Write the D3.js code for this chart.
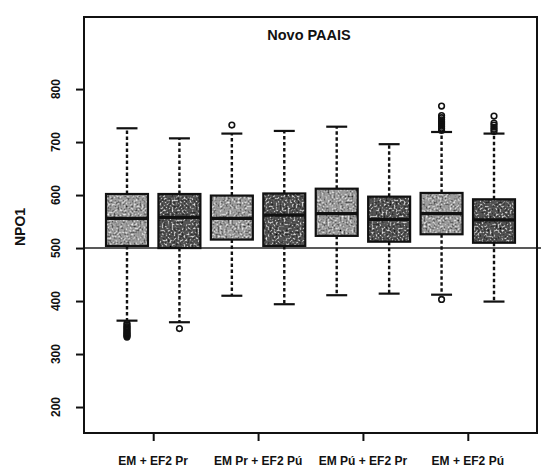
<!DOCTYPE html>
<html>
<head>
<meta charset="utf-8">
<script src="https://cdn.jsdelivr.net/npm/d3@7"></script>
<style>
  body { margin: 0; background: #fff; }
  text { font-family: "Liberation Sans", Arial, sans-serif; font-weight: bold; fill: #111; }
</style>
</head>
<body>
<div id="chart"></div>
<script>
// canvas size and plot box
let width = 541,
    height = 467,
    margin = ({ top: 17, right: 4, bottom: 34, left: 84 });

// data
const groupLabels = ["EM + EF2 Pr", "EM Pr + EF2 Pú", "EM Pú + EF2 Pr", "EM + EF2 Pú"];
const groupTicks = [1.5, 3.5, 5.5, 7.5];
const boxShade = ["light", "dark", "light", "dark", "light", "dark", "light", "dark"];
const lowerWhisker = [363, 360, 410, 394, 411, 414, 412, 399];
const q1 = [504, 500, 516, 504, 523, 512, 526, 510];
const median = [556, 558, 556, 562, 565, 554, 565, 553];
const q3 = [602, 602, 599, 603, 612, 597, 604, 592];
const upperWhisker = [726, 707, 716, 721, 729, 696, 719, 716];
const outliers = [
  [358, 355, 352, 350, 347, 345, 342, 340, 338, 336, 334, 332],
  [348],
  [732],
  [],
  [],
  [],
  [403, 722, 726, 730, 734, 738, 742, 746, 750, 768],
  [720, 724, 728, 732, 736, 749]
];
const yTicks = [200, 300, 400, 500, 600, 700, 800];
const refLine = 500;

const boxes = q1.map((d, i) => ({
  pos: i + 1, lo: lowerWhisker[i], q1: d, med: median[i], q3: q3[i],
  hi: upperWhisker[i], out: outliers[i], shade: boxShade[i]
}));

const svg = d3.select("#chart")
  .append("svg")
  .attr("width", width)
  .attr("height", height);

// speckled fill, like the printed/scanned original
const filter = svg.append("defs").append("filter")
  .attr("id", "speckle")
  .attr("x", 0).attr("y", 0).attr("width", 1).attr("height", 1);
filter.append("feTurbulence")
  .attr("type", "fractalNoise").attr("baseFrequency", 0.5)
  .attr("numOctaves", 2).attr("seed", 4).attr("result", "noise");
filter.append("feColorMatrix")
  .attr("in", "noise").attr("type", "matrix")
  .attr("values", "0 0 0 0 0  0 0 0 0 0  0 0 0 0 0  3 0 0 0 -1.5")
  .attr("result", "darkDots");
filter.append("feColorMatrix")
  .attr("in", "noise").attr("type", "matrix")
  .attr("values", "0 0 0 0 1  0 0 0 0 1  0 0 0 0 1  -3 0 0 0 1.35")
  .attr("result", "lightDots");
filter.append("feComposite")
  .attr("in", "darkDots").attr("in2", "SourceGraphic").attr("operator", "in")
  .attr("result", "d1");
filter.append("feComposite")
  .attr("in", "lightDots").attr("in2", "SourceGraphic").attr("operator", "in")
  .attr("result", "d2");
const merge = filter.append("feMerge");
merge.append("feMergeNode").attr("in", "SourceGraphic");
merge.append("feMergeNode").attr("in", "d1");
merge.append("feMergeNode").attr("in", "d2");

// scales
let x = d3.scaleLinear()
  .domain([0.18, 8.82])
  .range([margin.left, width - margin.right]);

let y = d3.scaleLinear()
  .domain([151, 936])
  .range([height - margin.bottom, margin.top]);

const boxW = (x(2) - x(1)) * 0.8;
const capW = boxW / 2;

// reference line at 500
svg.append("line")
  .attr("x1", margin.left).attr("x2", width)
  .attr("y1", y(refLine)).attr("y2", y(refLine))
  .attr("stroke", "#222").attr("stroke-width", 1.6);

const g = svg.append("g").selectAll("g")
  .data(boxes)
  .join("g");

// dashed whiskers
g.append("line")
  .attr("x1", d => x(d.pos)).attr("x2", d => x(d.pos))
  .attr("y1", d => y(d.q3)).attr("y2", d => y(d.hi))
  .attr("stroke", "#111").attr("stroke-width", 2.4)
  .attr("stroke-dasharray", "3.5,2.5");
g.append("line")
  .attr("x1", d => x(d.pos)).attr("x2", d => x(d.pos))
  .attr("y1", d => y(d.q1)).attr("y2", d => y(d.lo))
  .attr("stroke", "#111").attr("stroke-width", 2.4)
  .attr("stroke-dasharray", "3.5,2.5");

// caps
[d => d.hi, d => d.lo].forEach(f => {
  g.append("line")
    .attr("x1", d => x(d.pos) - capW / 2).attr("x2", d => x(d.pos) + capW / 2)
    .attr("y1", d => y(f(d))).attr("y2", d => y(f(d)))
    .attr("stroke", "#111").attr("stroke-width", 2.2);
});

// boxes: speckled fill, then outline
g.append("rect")
  .attr("x", d => x(d.pos) - boxW / 2)
  .attr("width", boxW)
  .attr("y", d => y(d.q3))
  .attr("height", d => y(d.q1) - y(d.q3))
  .attr("fill", d => d.shade === "light" ? "#9c9c9c" : "#555")
  .attr("filter", "url(#speckle)");
g.append("rect")
  .attr("x", d => x(d.pos) - boxW / 2)
  .attr("width", boxW)
  .attr("y", d => y(d.q3))
  .attr("height", d => y(d.q1) - y(d.q3))
  .attr("fill", "none")
  .attr("stroke", "#111").attr("stroke-width", 2.2);

// medians
g.append("line")
  .attr("x1", d => x(d.pos) - boxW / 2).attr("x2", d => x(d.pos) + boxW / 2)
  .attr("y1", d => y(d.med)).attr("y2", d => y(d.med))
  .attr("stroke", "#111").attr("stroke-width", 3.2);

// outliers
g.selectAll("circle")
  .data(d => d.out.map(v => ({ pos: d.pos, v })))
  .join("circle")
  .attr("cx", d => x(d.pos))
  .attr("cy", d => y(d.v))
  .attr("r", 2.8)
  .attr("fill", "none")
  .attr("stroke", "#111")
  .attr("stroke-width", 1.6);

// plot frame
svg.append("rect")
  .attr("x", margin.left).attr("y", margin.top)
  .attr("width", width - margin.right - margin.left)
  .attr("height", height - margin.bottom - margin.top)
  .attr("fill", "none").attr("stroke", "#111").attr("stroke-width", 2);

// y axis
const yAxis = svg.append("g")
  .attr("transform", `translate(${margin.left},0)`)
  .call(d3.axisLeft(y).tickValues(yTicks).tickSize(8).tickFormat(""));
yAxis.select(".domain").remove();
yAxis.selectAll("line").attr("stroke", "#111").attr("stroke-width", 2);

svg.append("g").selectAll("text")
  .data(yTicks)
  .join("text")
  .attr("transform", d => `translate(60,${y(d)}) rotate(-90)`)
  .attr("text-anchor", "middle")
  .attr("font-size", 12)
  .text(d => d);

// x axis
const xAxis = svg.append("g")
  .attr("transform", `translate(0,${height - margin.bottom})`)
  .call(d3.axisBottom(x).tickValues(groupTicks).tickSize(8).tickFormat(""));
xAxis.select(".domain").remove();
xAxis.selectAll("line").attr("stroke", "#111").attr("stroke-width", 2);

svg.append("g").selectAll("text")
  .data(groupLabels)
  .join("text")
  .attr("x", (d, i) => x(groupTicks[i]))
  .attr("y", 465)
  .attr("text-anchor", "middle")
  .attr("font-size", 12)
  .text(d => d);

// title and y label
svg.append("text")
  .attr("x", 309).attr("y", 40)
  .attr("text-anchor", "middle")
  .attr("font-size", 14.5)
  .text("Novo PAAIS");

svg.append("text")
  .attr("transform", `translate(25,227) rotate(-90)`)
  .attr("text-anchor", "middle")
  .attr("font-size", 14)
  .text("NPO1");
</script>
</body>
</html>
